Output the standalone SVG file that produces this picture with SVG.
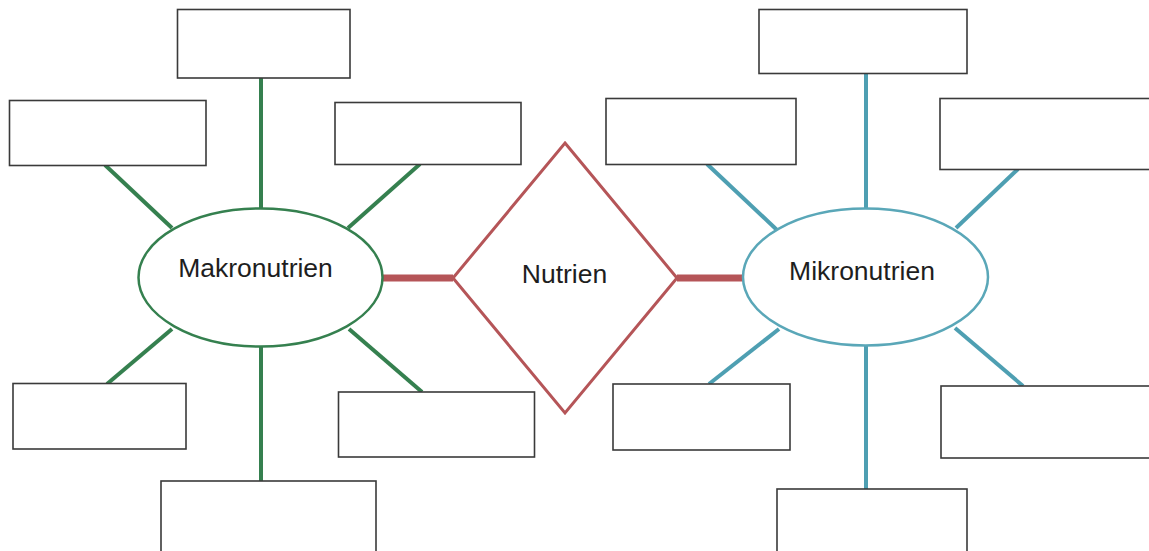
<svg xmlns="http://www.w3.org/2000/svg" width="1149" height="551" viewBox="0 0 1149 551">
<style>
.box{fill:#fff;stroke:#3a3a3a;stroke-width:1.6}
.g{stroke:#35804f;stroke-width:4;fill:none;stroke-linecap:butt}
.b{stroke:#4e9fb2;stroke-width:4;fill:none}
.r{stroke:#b55558;stroke-width:7;fill:none}
.lbl{font-family:"Liberation Sans",Arial,sans-serif;font-size:26.5px;fill:#1e1e1e;text-anchor:middle}
</style>
<rect width="1149" height="551" fill="#fff"/>
<g id="connectors">
<line class="g" x1="261" y1="78" x2="261" y2="209"/>
<line class="g" x1="105" y1="165" x2="172" y2="228"/>
<line class="g" x1="420" y1="164" x2="348" y2="228"/>
<line class="g" x1="172" y1="329" x2="107" y2="384"/>
<line class="g" x1="349" y1="329" x2="422" y2="392"/>
<line class="g" x1="261" y1="346" x2="261" y2="481"/>
<line class="b" x1="866" y1="73" x2="866" y2="209"/>
<line class="b" x1="707" y1="164" x2="777" y2="230"/>
<line class="b" x1="1018" y1="169" x2="956" y2="228"/>
<line class="b" x1="779" y1="329" x2="709" y2="384"/>
<line class="b" x1="955" y1="328" x2="1023" y2="386"/>
<line class="b" x1="866" y1="346" x2="866" y2="489"/>
<line class="r" x1="381" y1="278" x2="453" y2="278"/>
<line class="r" x1="677" y1="278" x2="745" y2="278"/>
</g>
<g id="makronutrien">
<ellipse cx="260.5" cy="277.5" rx="122" ry="69" fill="#fff" stroke="#35804f" stroke-width="2.5"/>
<text class="lbl" x="255.5" y="277">Makronutrien</text>
</g>
<g id="nutrien">
<polygon points="565,143 677,278 565,413 453,278" fill="#fff" stroke="#b55558" stroke-width="3"/>
<text class="lbl" x="564.5" y="283">Nutrien</text>
</g>
<g id="mikronutrien">
<ellipse cx="865.5" cy="277" rx="122.5" ry="68.5" fill="#fff" stroke="#5aa7b8" stroke-width="2.5"/>
<text class="lbl" x="862" y="280">Mikronutrien</text>
</g>
<g id="mak-top"><rect class="box" x="177.5" y="9.5" width="172.5" height="68.5"/></g>
<g id="mak-ul"><rect class="box" x="9.5" y="100.5" width="196.5" height="65"/></g>
<g id="mak-ur"><rect class="box" x="335" y="102.5" width="186" height="62"/></g>
<g id="mak-ll"><rect class="box" x="13" y="383.5" width="173" height="65.5"/></g>
<g id="mak-lr"><rect class="box" x="338.5" y="392" width="196" height="65"/></g>
<g id="mak-bot"><rect class="box" x="161" y="481" width="215" height="80"/></g>
<g id="mik-top"><rect class="box" x="759" y="9.5" width="208" height="64"/></g>
<g id="mik-ul"><rect class="box" x="606" y="98.5" width="190" height="66"/></g>
<g id="mik-ur"><rect class="box" x="940" y="98.5" width="215" height="71"/></g>
<g id="mik-ll"><rect class="box" x="613" y="384" width="177" height="66"/></g>
<g id="mik-lr"><rect class="box" x="941" y="386" width="215" height="72"/></g>
<g id="mik-bot"><rect class="box" x="777" y="489" width="190" height="80"/></g>
</svg>
